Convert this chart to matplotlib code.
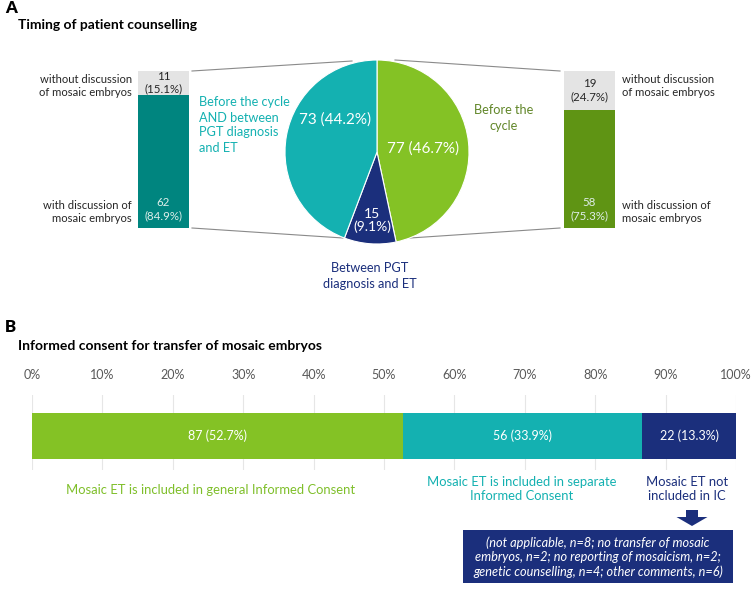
import matplotlib
matplotlib.use("Agg")
import matplotlib.pyplot as plt
from matplotlib.patches import Rectangle, FancyArrow

plt.rcParams['font.family'] = ['Lato', 'DejaVu Sans']

# panel A data
pie_labels = ["Before the cycle", "Between PGT diagnosis and ET",
              "Before the cycle AND between PGT diagnosis and ET"]
pie_counts = [77, 15, 73]
left_counts = [62, 11]    # with / without discussion (both timings group)
right_counts = [58, 19]   # with / without discussion (before the cycle group)

# panel B data
ic_labels = ["Mosaic ET is included in general Informed Consent",
             "Mosaic ET is included in separate\nInformed Consent",
             "Mosaic ET not\nincluded in IC"]
ic_counts = [87, 56, 22]
pct_ticks = [0, 10, 20, 30, 40, 50, 60, 70, 80, 90, 100]
box_text = ("(not applicable, n=8; no transfer of mosaic\n"
            "embryos, n=2; no reporting of mosaicism, n=2;\n"
            "genetic counselling, n=4; other comments, n=6)")

GREEN = '#84c225'
NAVY = '#1b2f7c'
TEAL = '#14b1b1'
DTEAL = '#00857f'
OLIVE = '#5f9414'
GREY = '#e4e4e4'
TXT = '#262626'

W, H = 755, 589
fig = plt.figure(figsize=(W / 100, H / 100), dpi=100)


def px_axes(x0, y0, x1, y1):
    # axes from pixel box (top-left origin)
    a = fig.add_axes([x0 / W, 1 - y1 / H, (x1 - x0) / W, (y1 - y0) / H])
    a.patch.set_alpha(0)
    return a


def pct(n, tot):
    return f"{n} ({n / tot * 100:.1f}%)"


def pct2(n, tot):
    return f"{n}\n({n / tot * 100:.1f}%)"


# overlay for free text & connector lines, pixel coordinates
ov = fig.add_axes([0, 0, 1, 1])
ov.set_xlim(0, W)
ov.set_ylim(H, 0)
ov.axis('off')

ov.text(5, 8, "A", fontsize=12, fontweight='heavy', va='center', color='black')
ov.text(18, 25, "Timing of patient counselling", fontsize=10,
        fontweight='bold', va='center', color='black')
ov.text(5, 327, "B", fontsize=12, fontweight='heavy', va='center', color='black')
ov.text(18, 346, "Informed consent for transfer of mosaic embryos",
        fontsize=10, fontweight='bold', va='center', color='black')

# pie
cx, cy, r = 377, 152, 92
pax = px_axes(cx - r, cy - r, cx + r, cy + r)
tot = sum(pie_counts)
pax.pie(pie_counts, colors=[GREEN, NAVY, TEAL], startangle=90,
        counterclock=False, radius=1,
        wedgeprops=dict(edgecolor='white', linewidth=0.8))
pax.set_xlim(-1, 1)
pax.set_ylim(-1, 1)
pax.set_aspect('equal')
pax.text(0.50, 0.04, pct(pie_counts[0], tot), color='white', fontsize=11,
         ha='center', va='center')
pax.text(-0.05, -0.74, pct2(pie_counts[1], tot), color='white', fontsize=10,
         ha='center', va='center', linespacing=1.05)
pax.text(-0.46, 0.35, pct(pie_counts[2], tot), color='white', fontsize=11,
         ha='center', va='center')

ov.text(199, 125, "Before the cycle\nAND between\nPGT diagnosis\nand ET",
        color=TEAL, fontsize=9.2, ha='left', va='center', linespacing=1.3)
ov.text(504, 118, "Before the\ncycle", color='#62872a', fontsize=9.2,
        ha='center', va='center', linespacing=1.3)
ov.text(370, 276, "Between PGT\ndiagnosis and ET", color=NAVY, fontsize=9.2,
        ha='center', va='center', linespacing=1.3)

# side stacked bars
for (x0, x1, counts, col) in [(138, 189, left_counts, DTEAL),
                              (564, 615, right_counts, OLIVE)]:
    bx = px_axes(x0, 71, x1, 228)
    n = sum(counts)
    bx.bar(0, counts[0], width=1, align='edge', color=col)
    bx.bar(0, counts[1], bottom=counts[0], width=1, align='edge', color=GREY)
    bx.set_xlim(0, 1)
    bx.set_ylim(0, n)
    bx.axis('off')
    bx.text(0.5, counts[0] + counts[1] / 2, pct2(counts[1], n).replace(" ", ""),
            ha='center', va='center', fontsize=8.3, color=TXT, linespacing=1.2)
    bx.text(0.5, n * 0.045, pct2(counts[0], n).replace(" ", ""), ha='center',
            va='bottom', fontsize=8.3, color='#dfeeea', linespacing=1.2)

for x, ha in [(132, 'right'), (622, 'left')]:
    ov.text(x, 86, "without discussion\nof mosaic embryos", ha=ha, va='center',
            fontsize=8.1, color=TXT, linespacing=1.3)
    ov.text(x, 212, "with discussion of\nmosaic embryos", ha=ha, va='center',
            fontsize=8.1, color=TXT, linespacing=1.3)

lc = '#8a8a8a'
ov.plot([192, 352], [71, 61], color=lc, lw=0.8)
ov.plot([192, 343], [228, 238], color=lc, lw=0.8)
ov.plot([395, 560], [60, 71], color=lc, lw=0.8)
ov.plot([410, 560], [238, 228], color=lc, lw=0.8)

# panel B stacked bar
bax = px_axes(32, 395, 736, 470)
ntot = sum(ic_counts)
left = 0
for n, col in zip(ic_counts, [GREEN, TEAL, NAVY]):
    w = n / ntot * 100
    bax.barh(34, w, left=left, height=46, color=col, zorder=2)
    bax.text(left + w / 2, 34, pct(n, ntot), ha='center', va='center',
             color='white', fontsize=9, zorder=3)
    left += w
bax.set_xlim(0, 100)
bax.set_ylim(0, 75)
bax.set_xticks(pct_ticks)
bax.set_xticklabels([f"{t}%" for t in pct_ticks])
bax.xaxis.tick_top()
bax.tick_params(axis='x', length=0, pad=10, labelsize=9, labelcolor='#595959')
bax.set_yticks([])
bax.grid(axis='x', color='#e6e6e6', lw=0.8, zorder=0)
for s in bax.spines.values():
    s.set_visible(False)

ov.text(211, 490, ic_labels[0], color='#7fbf2a', fontsize=9.4,
        ha='center', va='center')
ov.text(522, 489, ic_labels[1], color=TEAL, fontsize=9.4, ha='center',
        va='center', linespacing=1.25)
ov.text(687, 489, ic_labels[2], color=NAVY, fontsize=9.4, ha='center',
        va='center', linespacing=1.25)

ov.add_patch(FancyArrow(692, 510, 0, 16, width=12, head_width=31,
                        head_length=9, length_includes_head=True,
                        color=NAVY, lw=0))
ov.add_patch(Rectangle((463, 530), 270, 53, color=NAVY, lw=0))
ov.text(598, 557, box_text, color='white', fontsize=9.2, style='italic',
        ha='center', va='center', linespacing=1.2)

fig.savefig("out.png", dpi=100)
